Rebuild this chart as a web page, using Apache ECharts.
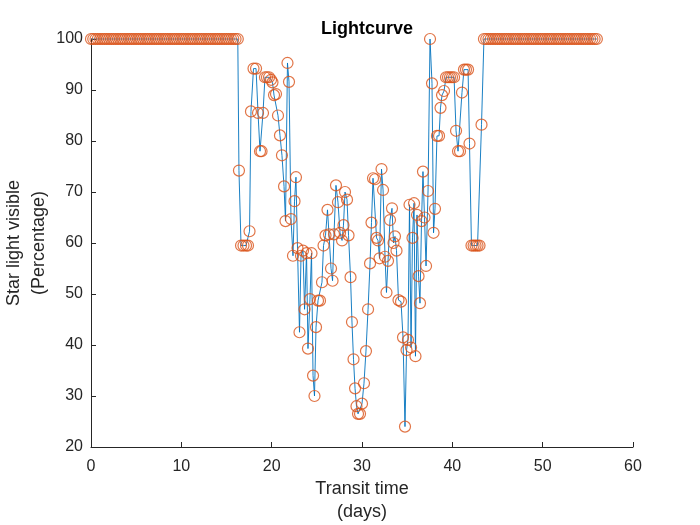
<!DOCTYPE html>
<html>
<head>
<meta charset="utf-8">
<title>Lightcurve</title>
<script src="https://cdn.jsdelivr.net/npm/echarts@6/dist/echarts.min.js"></script>
<style>
  html, body { margin: 0; padding: 0; background: #fff; }
  #chart { width: 700px; height: 525px; }
</style>
</head>
<body>
<div id="chart"></div>
<script>
// flat part before the transit
const startDays = [
  0, 0.25, 0.5, 0.75, 1, 1.25, 1.5, 1.75, 2, 2.25, 2.5,
  2.75, 3, 3.25, 3.5, 3.75, 4, 4.25, 4.5, 4.75, 5, 5.25,
  5.5, 5.75, 6, 6.25, 6.5, 6.75, 7, 7.25, 7.5, 7.75, 8,
  8.25, 8.5, 8.75, 9, 9.25, 9.5, 9.75, 10, 10.25, 10.5, 10.75,
  11, 11.25, 11.5, 11.75, 12, 12.25, 12.5, 12.75, 13, 13.25, 13.5,
  13.75, 14, 14.25, 14.5, 14.75, 15, 15.25, 15.5, 15.75, 16, 16.25
];
const startVisible = [
  100, 100, 100, 100, 100, 100, 100, 100, 100, 100, 100,
  100, 100, 100, 100, 100, 100, 100, 100, 100, 100, 100,
  100, 100, 100, 100, 100, 100, 100, 100, 100, 100, 100,
  100, 100, 100, 100, 100, 100, 100, 100, 100, 100, 100,
  100, 100, 100, 100, 100, 100, 100, 100, 100, 100, 100,
  100, 100, 100, 100, 100, 100, 100, 100, 100, 100, 100
];

// transit
const dipDays = [
  16.38, 16.61, 16.88, 17.16, 17.38, 17.55, 17.71, 17.99, 18.27, 18.49,
  18.71, 18.88, 19.04, 19.26, 19.48, 19.71, 19.93, 20.09, 20.26, 20.48,
  20.70, 20.92, 21.14, 21.37, 21.53, 21.75, 21.92, 22.14, 22.36, 22.53,
  22.69, 22.86, 23.08, 23.25, 23.47, 23.64, 23.86, 24.02, 24.24, 24.41,
  24.58, 24.74, 24.91, 25.13, 25.35, 25.57, 25.74, 25.96, 26.18, 26.35,
  26.57, 26.74, 26.90, 27.12, 27.34, 27.57, 27.79, 27.95, 28.12, 28.34,
  28.51, 28.73, 28.89, 29.06, 29.23, 29.39, 29.56, 29.78, 30.00, 30.22,
  30.44, 30.67, 30.89, 31.05, 31.22, 31.44, 31.61, 31.77, 31.94, 32.16,
  32.33, 32.55, 32.71, 32.88, 33.10, 33.32, 33.49, 33.65, 33.82, 34.04,
  34.32, 34.54, 34.76, 34.93, 35.09, 35.26, 35.43, 35.59, 35.76, 35.92,
  36.09, 36.26, 36.42, 36.59, 36.75, 36.92, 37.09, 37.31, 37.53, 37.75,
  37.92, 38.08, 38.30, 38.53, 38.69, 38.86, 39.08, 39.30, 39.52, 39.74,
  39.96, 40.19, 40.41, 40.63, 40.85, 41.07, 41.29, 41.51, 41.74, 41.90,
  42.12, 42.35, 42.57, 42.79, 43.01, 43.23
];
const dipVisible = [
  74.2, 59.5, 59.5, 59.5, 59.5, 62.3, 85.8, 94.2, 94.2, 85.5,
  78, 78, 85.5, 92.5, 92.5, 92.5, 92, 91.5, 89, 89.2,
  85, 81.1, 77.2, 71.1, 64.3, 95.3, 91.6, 64.7, 57.5, 68.2,
  72.9, 59, 42.5, 57.5, 58.5, 47, 58, 39.3, 49, 58,
  34, 30, 43.5, 48.7, 48.7, 52.3, 59.5, 61.5, 66.5, 61.7,
  55, 52.6, 61.7, 71.3, 68, 62, 60.5, 63.5, 70, 68.5,
  61.5, 53.3, 44.5, 37.2, 31.5, 28, 26.5, 26.5, 28.5, 32.5,
  38.8, 47, 56, 64, 72.7, 72.5, 61, 60.5, 57, 74.5,
  70.4, 57.3, 50.3, 56.5, 64.5, 66.8, 60, 61.3, 58.5, 48.8,
  48.5, 41.5, 24, 39, 41, 67.5, 39.5, 61, 67.8, 37.8,
  65.5, 53.5, 48.2, 64.3, 74, 65, 55.5, 70.2, 100, 91.3,
  62, 66.7, 81, 81, 86.5, 89, 89.8, 92.5, 92.5, 92.5,
  92.5, 92.5, 82, 78, 78, 89.5, 94, 94, 94, 79.5,
  59.5, 59.5, 59.5, 59.5, 59.5, 83.2
];

// flat part after the transit
const endDays = [
  43.5, 43.75, 44, 44.25, 44.5, 44.75, 45, 45.25, 45.5, 45.75,
  46, 46.25, 46.5, 46.75, 47, 47.25, 47.5, 47.75, 48, 48.25,
  48.5, 48.75, 49, 49.25, 49.5, 49.75, 50, 50.25, 50.5, 50.75,
  51, 51.25, 51.5, 51.75, 52, 52.25, 52.5, 52.75, 53, 53.25,
  53.5, 53.75, 54, 54.25, 54.5, 54.75, 55, 55.25, 55.5, 55.75,
  56
];
const endVisible = [
  100, 100, 100, 100, 100, 100, 100, 100, 100, 100,
  100, 100, 100, 100, 100, 100, 100, 100, 100, 100,
  100, 100, 100, 100, 100, 100, 100, 100, 100, 100,
  100, 100, 100, 100, 100, 100, 100, 100, 100, 100,
  100, 100, 100, 100, 100, 100, 100, 100, 100, 100,
  100
];

const xTicks = [0, 10, 20, 30, 40, 50, 60];
const yTicks = [20, 30, 40, 50, 60, 70, 80, 90, 100];

function pairs(xs, ys) {
  const n = Math.min(xs.length, ys.length);
  const out = [];
  for (let i = 0; i < n; i++) out.push([xs[i], ys[i]]);
  return out;
}

const points = pairs(startDays, startVisible)
  .concat(pairs(dipDays, dipVisible))
  .concat(pairs(endDays, endVisible));

const font = 'Liberation Sans, Arial, Helvetica, sans-serif';
const ink = '#262626';

const chart = echarts.init(document.getElementById('chart'), null, { renderer: 'canvas' });
chart.setOption({
  backgroundColor: '#fff',
  animation: false,
  title: {
    text: 'Lightcurve',
    left: 362,
    top: 15,
    textAlign: 'center',
    textStyle: { fontFamily: font, fontSize: 18, fontWeight: 'bold', color: '#000' }
  },
  grid: { left: 91, right: 67, top: 39, bottom: 78, containLabel: false, outerBoundsMode: 'none' },
  xAxis: {
    type: 'value',
    min: xTicks[0],
    max: xTicks[xTicks.length - 1],
    interval: 10,
    name: 'Transit time\n(days)',
    nameLocation: 'middle',
    nameGap: 31,
    nameMoveOverlap: false,
    nameTextStyle: { fontFamily: font, fontSize: 18, color: ink, lineHeight: 23 },
    axisLine: { lineStyle: { color: ink, width: 1 } },
    axisTick: { inside: true, length: 5, lineStyle: { color: ink } },
    axisLabel: { fontFamily: font, fontSize: 16, color: ink, margin: 12 },
    splitLine: { show: false }
  },
  yAxis: {
    type: 'value',
    min: yTicks[0],
    max: yTicks[yTicks.length - 1],
    interval: 10,
    name: 'Star light visible\n(Percentage)',
    nameLocation: 'middle',
    nameGap: 39,
    nameRotate: 90,
    nameMoveOverlap: false,
    nameTextStyle: { fontFamily: font, fontSize: 18, color: ink, lineHeight: 25 },
    axisLine: { show: true, lineStyle: { color: ink, width: 1 } },
    axisTick: { show: true, inside: true, length: 5, lineStyle: { color: ink } },
    axisLabel: { fontFamily: font, fontSize: 16, color: ink, margin: 8 },
    splitLine: { show: false }
  },
  series: [
    {
      type: 'line',
      data: points,
      showSymbol: false,
      lineStyle: { color: '#0072BD', width: 0.9 },
      emphasis: { disabled: true },
      clip: false,
      z: 2
    },
    {
      type: 'scatter',
      data: points,
      symbol: 'circle',
      symbolSize: 11,
      large: false,
      itemStyle: { color: 'rgba(255,255,255,0)', borderColor: '#D95319', borderWidth: 1.2 },
      emphasis: { disabled: true },
      clip: false,
      z: 3
    }
  ]
});
</script>
</body>
</html>
